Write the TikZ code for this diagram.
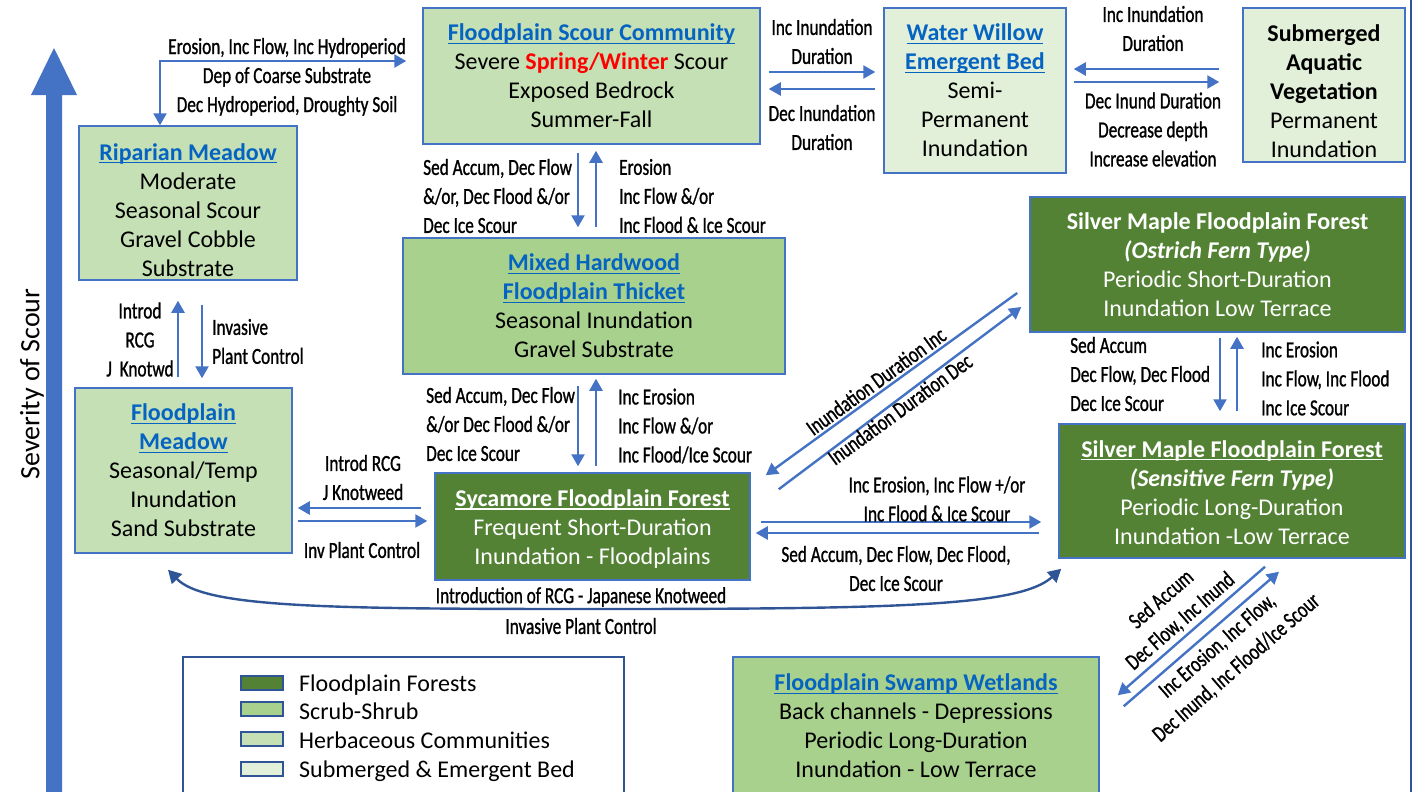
\documentclass[tikz,border=0pt]{standalone}
\usepackage{fontspec}
\setmainfont{Carlito}
\newfontfamily\condfont[FakeStretch=0.75,FakeBold=1]{Carlito}
\usetikzlibrary{arrows.meta}
\definecolor{forest}{HTML}{548235}
\definecolor{scrub}{HTML}{A9D18E}
\definecolor{herb}{HTML}{C5E0B4}
\definecolor{subm}{HTML}{E2F0D9}
\definecolor{bord}{HTML}{4472C4}
\definecolor{link}{HTML}{0563C1}
\definecolor{curvec}{HTML}{2F5597}
\newsavebox\myulbox
\newcommand\myul[1]{\sbox\myulbox{#1}\rlap{\rule[-3pt]{\wd\myulbox}{1.3pt}}\usebox\myulbox}
\newcommand\ttl[1]{{\bfseries\color{link}\myul{#1}}}
\newcommand\wttl[1]{{\bfseries\myul{#1}}}
\tikzset{
  box/.style={draw=bord, line width=1.5pt, align=center, inner sep=0pt,
    font=\fontsize{24}{29}\selectfont},
  lab/.style={font=\condfont\fontsize{23}{29}\selectfont, inner sep=0pt, align=center},
  arr/.style={draw=bord, line width=2.4pt, -{Triangle[length=12pt,width=13pt]}},
  arrs/.style={draw=bord, line width=2.4pt, {Triangle[length=12pt,width=13pt]}-{Triangle[length=12pt,width=13pt]}},
  curvearr/.style={draw=curvec, line width=2.4pt, {Triangle[length=13pt,width=14pt]}-{Triangle[length=13pt,width=14pt]}},
  swatch/.style={draw=curvec, line width=2pt, minimum width=42pt, minimum height=14pt, inner sep=0pt},
  legtext/.style={anchor=west, inner sep=0pt, font=\fontsize{24}{29}\selectfont, text height=16pt, text depth=5pt},
}
\begin{document}
\begin{tikzpicture}[x=1pt,y=-1pt]
\useasboundingbox (0,0) rectangle (1414,792);
% severity arrow
\fill[bord] (46,795) -- (46,95) -- (31,95) -- (54,48) -- (77,95) -- (62,95) -- (62,795) -- cycle;
\node[rotate=90, inner sep=0pt, font=\fontsize{28}{30}\selectfont] (sev) at (32,384) {Severity of Scour};
% right frame line
\draw[curvec, line width=2pt] (1411,0) -- (1411,792);

% boxes
\node[box, fill=herb, minimum width=218pt, minimum height=154pt] (rip) at (188,203)
  {\rule{0pt}{31pt}\ttl{Riparian Meadow}\\Moderate\\Seasonal Scour\\Gravel Cobble\\Substrate};
\node[box, fill=herb, minimum width=337pt, minimum height=136pt] (scour) at (591.5,76)
  {\ttl{Floodplain Scour Community}\\Severe \textbf{\color{red}Spring/Winter} Scour\\Exposed Bedrock\\Summer-Fall};
\node[box, fill=subm, minimum width=182pt, minimum height=165pt] (ww) at (975,90.5)
  {\ttl{Water Willow}\\\ttl{Emergent Bed}\\Semi-\\Permanent\\Inundation};
\node[box, fill=subm, minimum width=162pt, minimum height=154pt] (sav) at (1324,85)
  {\rule{0pt}{30pt}\textbf{Submerged}\\\textbf{Aquatic}\\\textbf{Vegetation}\\Permanent\\Inundation};
\node[box, fill=scrub, minimum width=382pt, minimum height=136pt] (mixed) at (594,306)
  {\ttl{Mixed Hardwood}\\\ttl{Floodplain Thicket}\\Seasonal Inundation\\Gravel Substrate};
\node[box, fill=herb, minimum width=217pt, minimum height=165pt] (fm) at (183.5,470.5)
  {\ttl{Floodplain}\\\ttl{Meadow}\\Seasonal/Temp\\Inundation\\Sand Substrate};
\node[box, fill=forest, text=white, minimum width=315pt, minimum height=107pt] (syc) at (592.5,526.5)
  {\rule{0pt}{22pt}\wttl{Sycamore Floodplain Forest}\\Frequent Short-Duration\\Inundation - Floodplains};
\node[box, fill=forest, text=white, minimum width=375pt, minimum height=135pt] (smo) at (1217.5,264.5)
  {\textbf{Silver Maple Floodplain Forest}\\\textbf{\textit{(Ostrich Fern Type)}}\\Periodic Short-Duration\\Inundation Low Terrace};
\node[box, fill=forest, text=white, minimum width=346pt, minimum height=134pt] (sms) at (1232,491)
  {\rule{0pt}{20pt}\wttl{Silver Maple Floodplain Forest}\\\textbf{\textit{(Sensitive Fern Type)}}\\Periodic Long-Duration\\Inundation -Low Terrace};
\node[box, fill=scrub, minimum width=366pt, minimum height=138pt] (swamp) at (916,726)
  {\ttl{Floodplain Swamp Wetlands}\\Back channels - Depressions\\Periodic Long-Duration\\Inundation - Low Terrace};

% legend
\node[draw=curvec, line width=1.3pt, minimum width=441pt, minimum height=138pt, inner sep=0pt] (legend) at (403.5,726) {};
\node[swatch, fill=forest] (sw1) at (262,683) {};
\node[swatch, fill=scrub] (sw2) at (262,709) {};
\node[swatch, fill=herb] (sw3) at (262,739) {};
\node[swatch, fill=subm] (sw4) at (262,769) {};
\node[legtext] (lt1) at (299,686) {Floodplain Forests};
\node[legtext] (lt2) at (299,714) {Scrub-Shrub};
\node[legtext] (lt3) at (299,743) {Herbaceous Communities};
\node[legtext] (lt4) at (299,772) {Submerged \& Emergent Bed};

% connectors
\draw[arrs] ([xshift=-28pt]rip.north) |- ([xshift=-16pt,yshift=15pt]scour.west);
\draw[arr] ([xshift=8pt,yshift=4pt]scour.east) -- ([xshift=-8pt,yshift=18.5pt]ww.west);
\draw[arr] ([xshift=-8pt,yshift=1.5pt]ww.west) -- ([xshift=8pt,yshift=-13pt]scour.east);
\draw[arr] ([xshift=-23pt,yshift=16pt]sav.west) -- ([xshift=7pt,yshift=21.5pt]ww.east);
\draw[arr] ([xshift=7pt,yshift=8.5pt]ww.east) -- ([xshift=-23pt,yshift=3pt]sav.west);
\draw[arr] ([xshift=-13.5pt,yshift=-8pt]scour.south) -- ([xshift=-16pt,yshift=10pt]mixed.north);
\draw[arr] ([xshift=2pt,yshift=10pt]mixed.north) -- ([xshift=4.5pt,yshift=-6pt]scour.south);
\draw[arr] ([xshift=-16pt,yshift=-11pt]mixed.south) -- ([xshift=-14.5pt,yshift=6pt]syc.north);
\draw[arr] ([xshift=3.5pt,yshift=6pt]syc.north) -- ([xshift=2pt,yshift=-4pt]mixed.south);
\draw[arr] ([xshift=-5.5pt,yshift=10pt]fm.north) -- ([xshift=-10pt,yshift=-20pt]rip.south);
\draw[arr] ([xshift=14pt,yshift=-24pt]rip.south) -- ([xshift=18.5pt,yshift=9pt]fm.north);
\draw[arr] ([xshift=-13pt,yshift=18.5pt]syc.west) -- ([xshift=5pt,yshift=-37.5pt]fm.east);
\draw[arr] ([xshift=5pt,yshift=-50.5pt]fm.east) -- ([xshift=-7pt,yshift=5.5pt]syc.west);
\draw[arr] ([xshift=-12pt,yshift=-28.5pt]smo.west) -- ([xshift=15pt,yshift=-3pt]syc.north east);
\draw[arr] ([xshift=28pt,yshift=-17pt]syc.north east) -- ([xshift=-8pt,yshift=-42.5pt]smo.west);
\draw[arr] ([xshift=10pt,yshift=4.5pt]syc.east) -- ([xshift=-17pt,yshift=-31pt]sms.west);
\draw[arr] ([xshift=-19pt,yshift=-42pt]sms.west) -- ([xshift=5pt,yshift=-6.5pt]syc.east);
\draw[arr] ([xshift=2.5pt,yshift=-5pt]smo.south) -- ([xshift=-12pt,yshift=12pt]sms.north);
\draw[arr] ([xshift=5pt,yshift=12pt]sms.north) -- ([xshift=19.5pt,yshift=-4pt]smo.south);
\draw[arr] ([xshift=33pt,yshift=-8pt]sms.south) -- ([xshift=18pt,yshift=-39pt]swamp.north east);
\draw[arr] ([xshift=24pt,yshift=-50pt]swamp.north east) -- ([xshift=47pt,yshift=-13pt]sms.south);
\draw[curvearr] ([xshift=-15.5pt,yshift=-16pt]fm.south) .. controls (205,608) and (330,609) .. (600,609)
   .. controls (900,609) and (1020,606) .. ([xshift=3pt,yshift=-10pt]sms.south west);

% connector labels
\node[lab] (l1) at (287,77) {Erosion, Inc Flow, Inc Hydroperiod\\Dep of Coarse Substrate\\Dec Hydroperiod, Droughty Soil};
\node[lab] (l2) at (822,41.5) {Inc Inundation\\Duration};
\node[lab] (l3) at (822,127.5) {Dec Inundation\\Duration};
\node[lab] (l4) at (1153,28.5) {Inc Inundation\\Duration};
\node[lab] (l5) at (1153,129.5) {Dec Inund Duration\\Decrease depth\\Increase elevation};
\node[lab, align=left, anchor=west] (l6) at (423,196) {Sed Accum, Dec Flow\\\&/or, Dec Flood \&/or\\Dec Ice Scour};
\node[lab, align=left, anchor=west] (l7) at (619,196) {Erosion\\Inc Flow \&/or\\Inc Flood \& Ice Scour};
\node[lab, align=left, anchor=west] (l8) at (426,424) {Sed Accum, Dec Flow\\\&/or Dec Flood \&/or\\Dec Ice Scour};
\node[lab, align=left, anchor=west] (l9) at (618,426) {Inc Erosion\\Inc Flow \&/or\\Inc Flood/Ice Scour};
\node[lab] (l10) at (140,339.5) {Introd\\RCG\\J~~Knotwd};
\node[lab, align=left, anchor=west] (l11) at (212,341.5) {Invasive\\Plant Control};
\node[lab] (l12) at (363,477.5) {Introd RCG\\J Knotweed};
\node[lab] (l13) at (362,550) {Inv Plant Control};
\node[lab, align=left, anchor=west] (l14) at (1070,374) {Sed Accum\\Dec Flow, Dec Flood\\Dec Ice Scour};
\node[lab, align=left, anchor=west] (l15) at (1261,378.5) {Inc Erosion\\Inc Flow, Inc Flood\\Inc Ice Scour};
\node[lab] (l16) at (937,499) {Inc Erosion, Inc Flow +/or\\Inc Flood \& Ice Scour};
\node[lab] (l17) at (896,568.5) {Sed Accum, Dec Flow, Dec Flood,\\Dec Ice Scour};
\node[lab, rotate=36] (l18) at (876,381) {Inundation Duration Inc};
\node[lab, rotate=36] (l19) at (900,409) {Inundation Duration Dec};
\node[lab, rotate=41] (l20) at (1171,610.5) {Sed Accum\\Dec Flow, Inc Inund};
\node[lab, rotate=41] (l21) at (1227,657) {Inc Erosion, Inc Flow,\\Dec Inund, Inc Flood/Ice Scour};
\node[lab] (l22) at (581,597) {Introduction of RCG - Japanese Knotweed};
\node[lab] (l23) at (581,626) {Invasive Plant Control};
\end{tikzpicture}
\end{document}
